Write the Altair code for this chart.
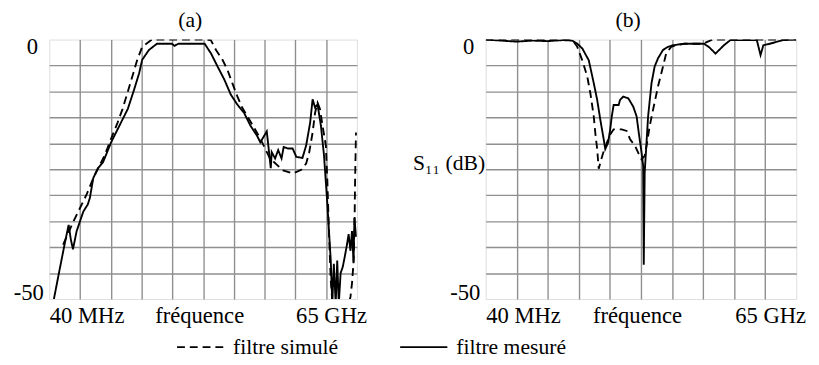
import altair as alt
import pandas as pd

FONT = "Liberation Serif"

# ---------------- data (x in grid units 0..10, y in dB) ----------------
series_names = ["filtre simulé", "filtre mesuré"]
panel_titles = ["(a)", "(b)"]

x_tick_values = [0, 5, 9]
x_tick_labels = ["40 MHz", "fréquence", "65 GHz"]
y_tick_values = [0, -50]
y_tick_labels = ["0", "-50"]
y_title_b = "S₁₁ (dB)"

# panel (a) - measured (solid)
a_meas_x = [0.15, 0.31, 0.52, 0.63, 0.70, 0.77, 0.89, 1.11, 1.25, 1.32, 1.43, 1.58,
            1.75, 2.01, 2.17, 2.33, 2.55, 2.76, 2.92, 3.02, 3.24, 3.5, 3.98, 4.07,
            4.2, 5.05, 5.26, 5.47, 5.69, 5.9, 6.11, 6.33, 6.54, 6.75, 6.86, 7.07,
            7.12, 7.2, 7.23, 7.34, 7.44, 7.55, 7.62, 7.76, 7.91, 8.03, 8.23, 8.35,
            8.48, 8.56, 8.64, 8.72, 8.83, 8.93, 9.04, 9.15, 9.2, 9.25, 9.31, 9.36,
            9.41, 9.47, 9.54, 9.6, 9.68, 9.73, 9.79, 9.84, 9.89, 9.92, 9.97]
a_meas_y = [-50, -45.1, -38.8, -35.7, -38.5, -40.4, -36.9, -33.1, -31.8, -30.5, -26.7, -24.8,
            -23.6, -19.8, -17.9, -16.0, -13.4, -9.6, -6.5, -3.9, -2.0, -0.8, -0.8, -1.2,
            -0.8, -0.8, -2.7, -5.2, -7.7, -10.6, -12.5, -14.1, -16.6, -18.5, -19.8, -17.7,
            -20.4, -24.8, -21.7, -22.9, -21.3, -22.9, -20.7, -21.0, -21.0, -22.6, -22.8, -20.4,
            -16.0, -11.5, -13.1, -12.5, -16.6, -22.3, -31.8, -42.6, -51, -43.2, -51, -42.6,
            -51, -45, -43.8, -42, -39.4, -37.5, -40.7, -36.9, -42.9, -34.4, -38]

# panel (a) - simulated (dashed)
a_sim_x = [0.45, 0.79, 1.21, 1.43, 1.64, 1.8, 2.01, 2.22, 2.38, 2.54, 2.7, 2.86,
           3.02, 3.34, 5.04, 5.25, 5.42, 5.63, 5.79, 5.95, 6.11, 6.27, 6.43, 6.65,
           6.86, 7.17, 7.6, 7.92, 8.19, 8.35, 8.45, 8.56, 8.64, 8.72, 8.8, 8.9,
           8.99, 9.04, 9.09, 9.15, 9.2, 9.5, 9.75, 9.79, 9.84, 9.89, 9.92, 9.94, 9.97]
a_sim_y = [-39.5, -35, -29.9, -26.7, -24.2, -22.3, -19.1, -16.0, -13.4, -10.3, -7.1, -3.9,
           -1.4, 0, 0, -0.1, -2.0, -3.9, -5.8, -8.4, -10.9, -13.1, -14.7, -16.9,
           -19.1, -22.9, -25.2, -25.8, -25.1, -23.9, -21.7, -17.9, -14.1, -12.2, -13.4, -17.2,
           -20.4, -27.4, -36.9, -46.4, -50.5, -50.5, -50.5, -49.6, -47, -43, -36.9, -27.4, -17.9]

# panel (b) - measured (solid)
b_meas_x = [0, 0.5, 1.0, 1.5, 2.0, 2.5, 2.79, 2.95, 3.11, 3.32, 3.48, 3.59, 3.69, 3.8,
            3.85, 3.94, 4.01, 4.06, 4.12, 4.28, 4.33, 4.43, 4.59, 4.75, 4.86, 4.93,
            5.02, 5.07, 5.09, 5.12, 5.23, 5.34, 5.44, 5.55, 5.71, 5.87, 6.03, 6.39,
            7.03, 7.2, 7.4, 7.67, 7.88, 8.73, 8.85, 8.94, 9.15, 9.58, 10]
b_meas_y = [0, -0.2, -0.4, -0.2, -0.3, -0.1, -0.2, -0.8, -1.7, -4.0, -8.4, -11.6, -15.4, -19.2,
            -21.1, -19.9, -17.3, -14.8, -12.6, -12.6, -11.6, -11.0, -11.3, -12.9, -14.8, -18.0,
            -21.8, -24.3, -43.4, -25.6, -14.8, -8.4, -5.2, -3.6, -2.0, -1.4, -1.1, -0.8,
            -0.8, -1.5, -2.7, -1.1, -0.1, -0.1, -3.0, -1.1, -0.8, -0.1, 0]

# panel (b) - simulated (dashed)
b_sim_x = [0, 2.79, 2.95, 3.11, 3.27, 3.37, 3.48, 3.53, 3.59, 3.64, 3.72, 3.8, 3.9,
           4.01, 4.12, 4.38, 4.54, 4.65, 4.81, 4.91, 5.02, 5.12, 5.18, 5.28, 5.39,
           5.55, 5.71, 5.81, 5.97, 6.13, 6.4, 7.0, 7.3, 10]
b_sim_y = [0, 0, -1.4, -4.0, -7.1, -10.3, -14.8, -18.0, -21.1, -24.9, -23.1, -21.5, -19.9,
           -18.3, -17.3, -17.3, -17.6, -19.2, -20.5, -21.8, -23.1, -22.4, -20.5, -16.7, -13.5,
           -9.0, -5.2, -2.7, -1.4, -1.1, -0.8, -0.8, 0, 0]


def series_df(xs, ys, name):
    return pd.DataFrame({"x": xs, "y": ys, "serie": name, "i": list(range(len(xs)))})


df_a = pd.concat([series_df(a_sim_x, a_sim_y, series_names[0]),
                  series_df(a_meas_x, a_meas_y, series_names[1])], ignore_index=True)
df_b = pd.concat([series_df(b_sim_x, b_sim_y, series_names[0]),
                  series_df(b_meas_x, b_meas_y, series_names[1])], ignore_index=True)

# ---------------- axes ----------------
x_expr = " : ".join(f"datum.value == {v} ? '{t}'" for v, t in zip(x_tick_values, x_tick_labels)) + " : ''"
y_expr = " : ".join(f"datum.value == {v} ? '{t}'" for v, t in zip(y_tick_values, y_tick_labels)) + " : ''"

GRID = "#8f8f8f"
PLOT_H = 264


def x_axis():
    return alt.Axis(
        values=list(range(0, 11)), grid=True, gridColor=GRID, gridWidth=1.4,
        gridOpacity={"condition": {"test": "datum.value == 0 || datum.value == 10", "value": 0}, "value": 1},
        ticks=False, domain=False, title=None,
        labelExpr=x_expr, labelFont=FONT, labelFontSize=23, labelColor="black",
        labelAlign={"condition": {"test": "datum.value == 0", "value": "left"}, "value": "center"},
        labelOffset={"condition": [{"test": "datum.value == 5", "value": -4},
                                   {"test": "datum.value == 9", "value": 5}], "value": 0},
        labelBaseline="alphabetic", labelPadding=24, labelOverlap=False, labelFlush=False,
    )


def y_axis(title=None):
    kw = dict(
        values=list(range(-50, 1, 5)), grid=True, gridColor=GRID, gridWidth=1.4,
        gridOpacity={"condition": {"test": "datum.value == 0 || datum.value == -50", "value": 0}, "value": 1},
        ticks=False, domain=False,
        labelExpr=y_expr, labelFont=FONT, labelFontSize=23, labelColor="black",
        labelBaseline="alphabetic",
        labelOffset={"condition": {"test": "datum.value == 0", "value": 14}, "value": 0},
        labelPadding={"condition": {"test": "datum.value == 0", "value": 12}, "value": 6},
        labelOverlap=False, labelFlush=False,
    )
    if title:
        kw.update(title=title, titleAngle=0, titleAlign="right", titleBaseline="alphabetic",
                  titleX=-1, titleY=132, titleFont=FONT, titleFontSize=22,
                  titleFontWeight="normal", titleColor="black")
    else:
        kw.update(title=None)
    return alt.Axis(**kw)


dash_scale = alt.Scale(domain=series_names, range=[[8, 5], [1, 0]])
legend = alt.Legend(
    title=None, orient="none", legendX=129, legendY=288, direction="horizontal",
    symbolType="stroke", symbolSize=2304, symbolStrokeWidth=1.8, symbolStrokeColor="black",
    labelFont=FONT, labelFontSize=22, labelColor="black", labelOffset=8,
    columnPadding=59, padding=0, labelLimit=0,
)


def panel(df, title, width, ytitle=None):
    lines = alt.Chart(df).mark_line(clip=True, color="black", strokeWidth=1.9).encode(
        x=alt.X("x:Q", scale=alt.Scale(domain=[0, 10], nice=False, zero=False), axis=x_axis()),
        y=alt.Y("y:Q", scale=alt.Scale(domain=[-50, 0], nice=False, zero=False), axis=y_axis(ytitle)),
        strokeDash=alt.StrokeDash("serie:N", scale=dash_scale, legend=legend),
        detail="serie:N",
        order="i:Q",
    )
    head = alt.Chart(pd.DataFrame({"t": [title]})).mark_text(
        font=FONT, fontSize=22, color="black", baseline="alphabetic", align="center", dy=-13
    ).encode(
        x=alt.value(width / 2 - 13), y=alt.value(0), text="t:N"
    )
    return alt.layer(lines, head).properties(width=width, height=PLOT_H)


chart_a = panel(df_a, panel_titles[0], 313)
chart_b = panel(df_b, panel_titles[1], 316, y_title_b)

chart = alt.hconcat(chart_a, chart_b, spacing=131, bounds="flush").resolve_scale(
    strokeDash="shared"
).properties(
    padding={"left": 4, "top": -3, "right": 5, "bottom": 5}
).configure_view(
    stroke="black", strokeWidth=2
).configure(font=FONT)

chart.save("out.html", embed_options={"renderer": "svg", "actions": False})
